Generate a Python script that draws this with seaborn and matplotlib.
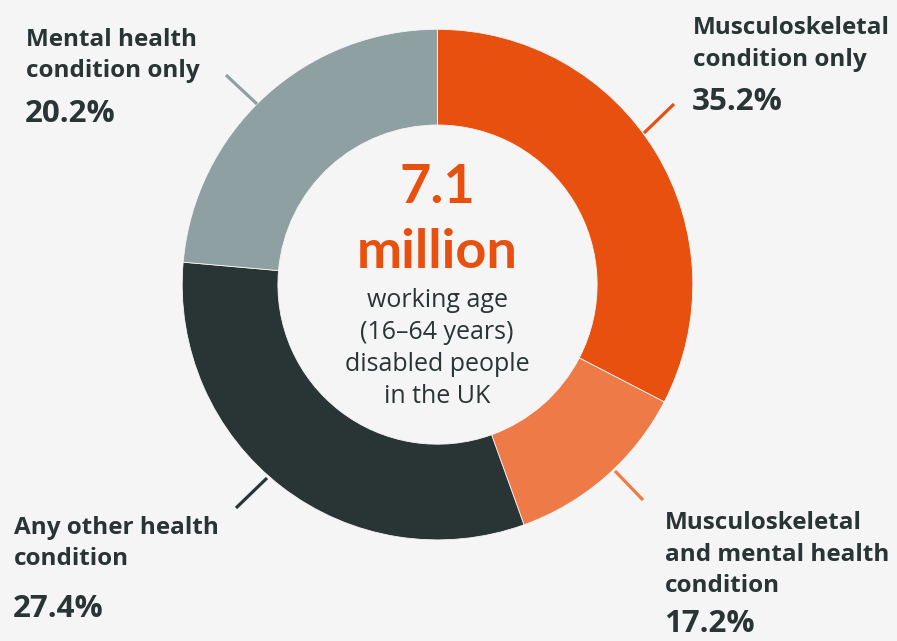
import matplotlib.pyplot as plt
import seaborn as sns

# Data
categories = ["Musculoskeletal condition only",
              "Musculoskeletal and mental health condition",
              "Any other health condition",
              "Mental health condition only"]
label_lines = [["Musculoskeletal", "condition only"],
               ["Musculoskeletal", "and mental health", "condition"],
               ["Any other health", "condition"],
               ["Mental health", "condition only"]]
shares = [35.2, 17.2, 27.4, 20.2]
# the arcs as drawn in the picture do not follow the printed shares exactly
arc_pct = [32.6, 11.9, 31.9, 23.6]
total_label = "7.1"
total_unit = "million"
centre_lines = ["working age", "(16\u201364 years)", "disabled people", "in the UK"]

colours = ["#E8500F", "#EE7B47", "#293435", "#8FA0A2"]
bg = "#F5F5F5"
ink = "#293435"

sns.set_style("white")
plt.rcParams["font.family"] = ["Open Sans", "DejaVu Sans"]

W, H = 897, 641
cx, cy = 437.5, 284.6          # centre of the ring in pixels
R, ring_w = 255.3, 95.7


def px(x, y):
    # convert pixel position (top-left origin) to data coords
    return x - cx, cy - y


fig = plt.figure(figsize=(W / 100, H / 100), dpi=100, facecolor=bg)
ax = fig.add_axes([0, 0, 1, 1])
ax.set_facecolor(bg)

ax.pie(arc_pct, colors=colours, startangle=90, counterclock=False, radius=R,
       wedgeprops=dict(width=ring_w, edgecolor=bg, linewidth=0.6))

# short leader lines
leaders = [((644, 133), (674, 104)),
           ((615, 471), (643, 500)),
           ((267, 478), (236, 508)),
           ((257, 104), (226, 75))]
for (p0, p1), c in zip(leaders, colours):
    x0, y0 = px(*p0)
    x1, y1 = px(*p1)
    ax.plot([x0, x1], [y0, y1], color=c, lw=2.3, solid_capstyle="butt")

# labels: x, baseline of first line, line step, baseline of percentage
label_pos = [(693, 34, 32.4, 110.5),
             (665, 529, 31.7, 632),
             (14, 534, 31, 617),
             (26, 46, 31.3, 121.5)]
for lines, val, (lx, ly, step, py) in zip(label_lines, shares, label_pos):
    for i, line in enumerate(lines):
        ax.text(*px(lx, ly + i * step), line, ha="left", va="baseline",
                fontsize=17.5, fontweight="bold", color=ink)
    ax.text(*px(lx - 1, py), f"{val}%", ha="left", va="baseline",
            fontsize=22.5, fontweight="bold", color=ink)

# centre text
ax.text(*px(437, 203), total_label, ha="center", va="baseline", family=["Lato"],
        fontsize=39, fontweight="bold", color=colours[0])
ax.text(*px(437, 268), total_unit, ha="center", va="baseline", family=["Lato"],
        fontsize=39, fontweight="bold", color=colours[0])
for i, line in enumerate(centre_lines):
    ax.text(*px(437, 306.7 + i * 32), line, ha="center", va="baseline",
            fontsize=18, color=ink)

ax.set_xlim(-cx, W - cx)
ax.set_ylim(cy - H, cy)
ax.set_aspect("equal")
ax.axis("off")

fig.savefig("out.png", dpi=100, facecolor=bg)
